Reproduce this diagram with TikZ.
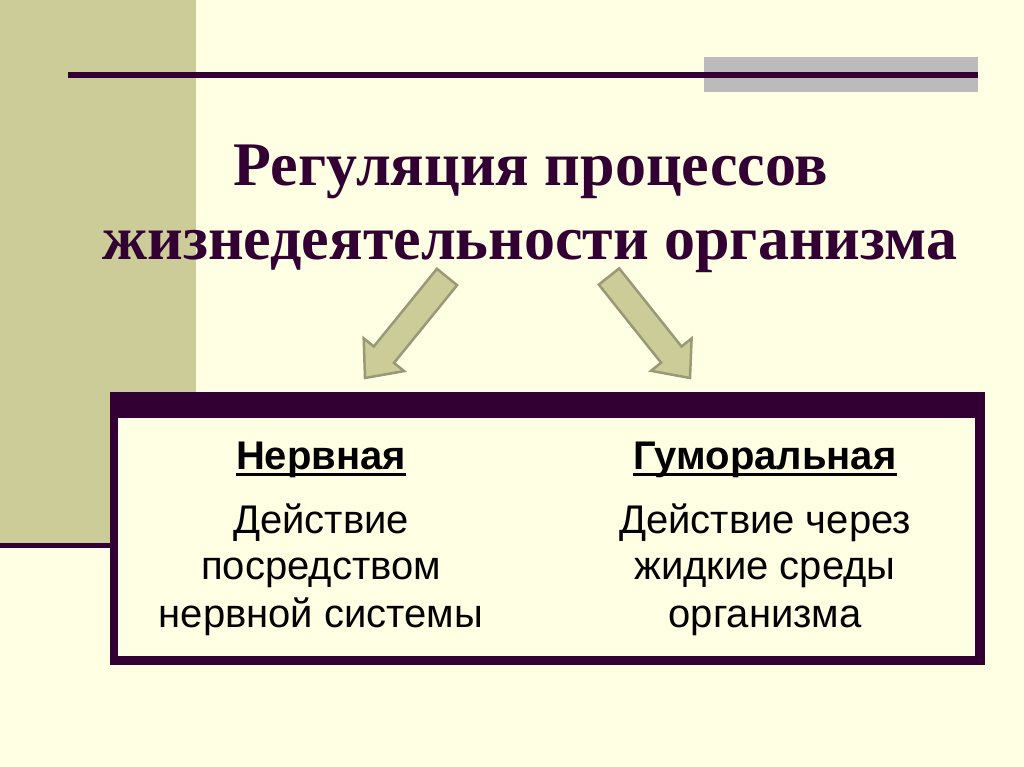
\documentclass[tikz,border=0pt]{standalone}
\usepackage{fontspec}
\setmainfont{Liberation Serif}
\newfontfamily\arialf{Liberation Sans}
\definecolor{bgcream}{HTML}{FFFFE3}
\definecolor{olive}{HTML}{CCCC99}
\definecolor{oliveedge}{HTML}{999977}
\definecolor{plum}{HTML}{330033}
\definecolor{greybar}{HTML}{BBBBBB}
\tikzset{
  titletext/.style={anchor=base, inner sep=0pt, font=\fontsize{62}{64}\selectfont\bfseries, text=plum},
  headtext/.style={anchor=base, inner sep=0pt, font=\arialf\fontsize{40}{44}\selectfont\bfseries, text=black},
  bodytext/.style={anchor=base, inner sep=0pt, font=\arialf\fontsize{40}{44}\selectfont, text=black},
  headline/.style={line width=3pt, black},
  blockarrow/.style={fill=olive, draw=oliveedge, line width=2.5pt, line join=miter},
}
\begin{document}
\begin{tikzpicture}[x=1pt,y=-1pt]
\useasboundingbox (0,0) rectangle (1024,767);
\fill[bgcream] (0,0) rectangle (1024,767);
% left olive panel
\fill[olive] (0,0) rectangle (196,543);
\fill[plum] (0,543) rectangle (114,548);
% top decoration
\fill[greybar] (704,57) rectangle (978,92);
\fill[plum] (68,72) rectangle (978,78);
% title
\node[titletext] (t1) at (531,186) {Регуляция процессов};
\node[titletext] (t2) at (530,259) {жизнедеятельности организма};
% block arrows
\draw[blockarrow] (457.1,285.2) -- (436.9,268.8) -- (373.8,346.5) -- (363.7,338.3) -- (365,378) -- (404.1,371.1) -- (394.0,362.9) -- cycle;
\draw[blockarrow] (598.8,284.6) -- (619.2,268.4) -- (681.5,346.5) -- (691.6,338.4) -- (690,378) -- (651.0,370.8) -- (661.1,362.7) -- cycle;
% box
\fill[plum] (110,392) rectangle (985,665);
\fill[bgcream] (118,418) rectangle (975,656);
\node[headtext] (h1) at (321,469) {Нервная};
\draw[headline] ([yshift=-5pt]h1.base west) -- ([yshift=-5pt]h1.base east);
\node[bodytext] (b11) at (321,533) {Действие};
\node[bodytext] (b12) at (321,579) {посредством};
\node[bodytext] (b13) at (321,627) {нервной системы};
\node[headtext] (h2) at (765,469) {Гуморальная};
\draw[headline] ([yshift=-5pt]h2.base west) -- ([yshift=-5pt]h2.base east);
\node[bodytext] (b21) at (765,533) {Действие через};
\node[bodytext] (b22) at (765,579) {жидкие среды};
\node[bodytext] (b23) at (765,627) {организма};
\end{tikzpicture}
\end{document}
